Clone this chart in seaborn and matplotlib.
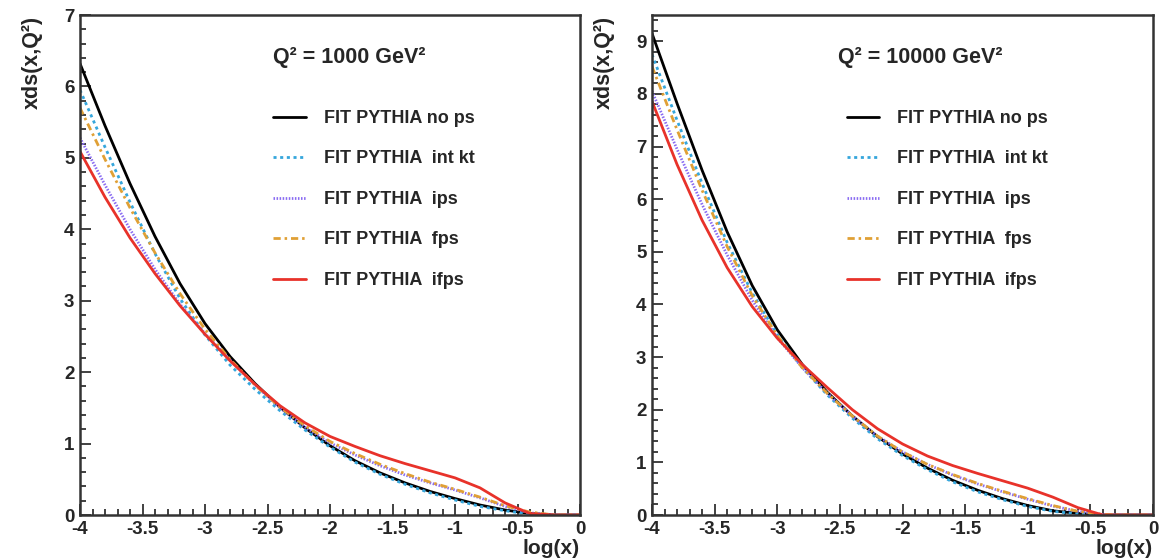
import numpy as np
import pandas as pd
import matplotlib
matplotlib.use("Agg")
import matplotlib.pyplot as plt
import seaborn as sns
from matplotlib.ticker import MultipleLocator, FuncFormatter
from matplotlib.lines import Line2D

# ---------------- data ----------------
log_x = [-4.0, -3.8, -3.6, -3.4, -3.2, -3.0, -2.8, -2.6, -2.4, -2.2, -2.0,
         -1.8, -1.6, -1.4, -1.2, -1.0, -0.8, -0.6, -0.4, -0.2, 0.0]

series_labels = ["FIT PYTHIA no ps", "FIT PYTHIA  int kt", "FIT PYTHIA  ips",
                 "FIT PYTHIA  fps", "FIT PYTHIA  ifps"]

# Q^2 = 1000 GeV^2
q1000_no_ps = [6.32, 5.45, 4.64, 3.90, 3.24, 2.68, 2.22, 1.84, 1.51, 1.22, 0.97,
               0.76, 0.59, 0.45, 0.33, 0.23, 0.14, 0.07, 0.02, 0.0, 0.0]
q1000_int_kt = [5.95, 5.15, 4.38, 3.66, 3.03, 2.52, 2.10, 1.76, 1.46, 1.19, 0.95,
                0.74, 0.57, 0.43, 0.31, 0.21, 0.12, 0.06, 0.01, 0.0, 0.0]
q1000_ips = [5.28, 4.62, 4.00, 3.44, 2.95, 2.54, 2.17, 1.82, 1.50, 1.23, 1.01,
             0.84, 0.69, 0.56, 0.45, 0.35, 0.24, 0.12, 0.03, 0.0, 0.0]
q1000_fps = [5.70, 4.98, 4.30, 3.67, 3.10, 2.60, 2.18, 1.82, 1.51, 1.25, 1.03,
             0.86, 0.71, 0.58, 0.46, 0.36, 0.25, 0.13, 0.04, 0.0, 0.0]
q1000_ifps = [5.09, 4.45, 3.88, 3.38, 2.93, 2.53, 2.16, 1.83, 1.53, 1.29, 1.10,
              0.96, 0.83, 0.72, 0.62, 0.52, 0.38, 0.17, 0.02, 0.0, 0.0]

# Q^2 = 10000 GeV^2
q10000_no_ps = [9.15, 7.82, 6.55, 5.38, 4.36, 3.52, 2.86, 2.33, 1.88, 1.49, 1.16,
                0.89, 0.66, 0.47, 0.31, 0.18, 0.08, 0.03, 0.0, 0.0, 0.0]
q10000_int_kt = [8.75, 7.50, 6.30, 5.18, 4.22, 3.43, 2.80, 2.28, 1.84, 1.45, 1.13,
                 0.86, 0.63, 0.44, 0.29, 0.16, 0.07, 0.02, 0.0, 0.0, 0.0]
q10000_ips = [8.05, 6.95, 5.90, 4.94, 4.08, 3.37, 2.80, 2.31, 1.88, 1.50, 1.20,
              0.96, 0.76, 0.59, 0.44, 0.30, 0.17, 0.07, 0.01, 0.0, 0.0]
q10000_fps = [8.52, 7.32, 6.17, 5.10, 4.17, 3.41, 2.80, 2.31, 1.88, 1.50, 1.20,
              0.96, 0.77, 0.60, 0.45, 0.31, 0.18, 0.07, 0.01, 0.0, 0.0]
q10000_ifps = [7.86, 6.66, 5.60, 4.70, 3.96, 3.36, 2.86, 2.42, 2.00, 1.64, 1.35,
               1.12, 0.94, 0.79, 0.65, 0.51, 0.34, 0.14, 0.0, 0.0, 0.0]

panel_titles = ["Q² = 1000 GeV²", "Q² = 10000 GeV²"]
panel_ymax = [7, 9.5]
x_ticks = [-4, -3.5, -3, -2.5, -2, -1.5, -1, -0.5, 0]

# ---------------- style ----------------
sns.set_theme(style="white")
plt.rcParams["font.family"] = ["Liberation Sans", "DejaVu Sans"]
plt.rcParams["font.weight"] = "bold"
plt.rcParams["axes.unicode_minus"] = False

colors = {
    series_labels[0]: "#000000",
    series_labels[1]: "#35a6dc",
    series_labels[2]: "#8a6cf2",
    series_labels[3]: "#e0a035",
    series_labels[4]: "#e8322a",
}
dashes = {
    series_labels[0]: "",
    series_labels[1]: (1.1, 1.3),
    series_labels[2]: (0.55, 0.55),
    series_labels[3]: (2.6, 1.4, 0.9, 1.4),
    series_labels[4]: "",
}


def make_df(vals):
    rows = []
    for lab, v in zip(series_labels, vals):
        for xx, yy in zip(log_x, v):
            rows.append((lab, xx, yy))
    return pd.DataFrame(rows, columns=["series", "logx", "xds"])


panels = [
    make_df([q1000_no_ps, q1000_int_kt, q1000_ips, q1000_fps, q1000_ifps]),
    make_df([q10000_no_ps, q10000_int_kt, q10000_ips, q10000_fps, q10000_ifps]),
]

fig = plt.figure(figsize=(11.71, 5.6), dpi=100)
W, H = 1171, 560
ax_boxes = [(80, 15, 580, 515), (652, 15, 1153, 515)]
ylabel_x = [32, 604]

for i, (df, box) in enumerate(zip(panels, ax_boxes)):
    x0, y0, x1, y1 = box
    ax = fig.add_axes([x0 / W, (H - y1) / H, (x1 - x0) / W, (y1 - y0) / H])
    sns.lineplot(data=df, x="logx", y="xds", hue="series", style="series",
                 palette=colors, dashes=dashes, hue_order=series_labels,
                 style_order=series_labels, linewidth=2.0, legend=False,
                 ax=ax, sort=False)
    ax.set_xlim(-4, 0)
    ax.set_ylim(0, panel_ymax[i])
    ax.set_xlabel("")
    ax.set_ylabel("")
    ax.set_xticks(x_ticks)
    ax.xaxis.set_minor_locator(MultipleLocator(0.1))
    ax.yaxis.set_major_locator(MultipleLocator(1))
    ax.yaxis.set_minor_locator(MultipleLocator(0.2))
    ax.xaxis.set_major_formatter(FuncFormatter(lambda v, p: "%g" % v))
    ax.yaxis.set_major_formatter(FuncFormatter(lambda v, p: "%g" % v))
    ax.tick_params(which="both", direction="in", top=False, right=False,
                   left=True, bottom=True, color="#333333", width=1.3,
                   labelsize=13.5)
    ax.tick_params(which="major", length=8, pad=4)
    ax.tick_params(which="minor", length=4)
    for lbl in ax.get_xticklabels() + ax.get_yticklabels():
        lbl.set_fontweight("bold")
    for sp in ax.spines.values():
        sp.set_color("#333333")
        sp.set_linewidth(1.8)

    # panel text
    ax.text(0.386 if i == 0 else 0.371, 0.915, panel_titles[i],
            transform=ax.transAxes, fontsize=15.5, fontweight="bold",
            ha="left", va="center")
    handles = [Line2D([0], [0], color=colors[s], lw=2.0,
                      dashes=dashes[s] if dashes[s] else (None, None))
               for s in series_labels]
    ax.legend(handles, series_labels, loc="upper left",
              bbox_to_anchor=(0.386 if i == 0 else 0.389, 0.81),
              frameon=False, borderaxespad=0, borderpad=0,
              handlelength=1.8, handletextpad=1.0, labelspacing=1.3,
              prop={"size": 13, "weight": "bold"})

    # axis labels
    ax.text(1.0, -0.068, "log(x)", transform=ax.transAxes, ha="right",
            va="center", fontsize=15, fontweight="bold")
    fig.text(ylabel_x[i] / W, 1 - 16 / H, "xds(x,Q²)", rotation=90,
             ha="center", va="top", fontsize=15.5, fontweight="bold")

fig.savefig("out.png", dpi=100, facecolor="white")
